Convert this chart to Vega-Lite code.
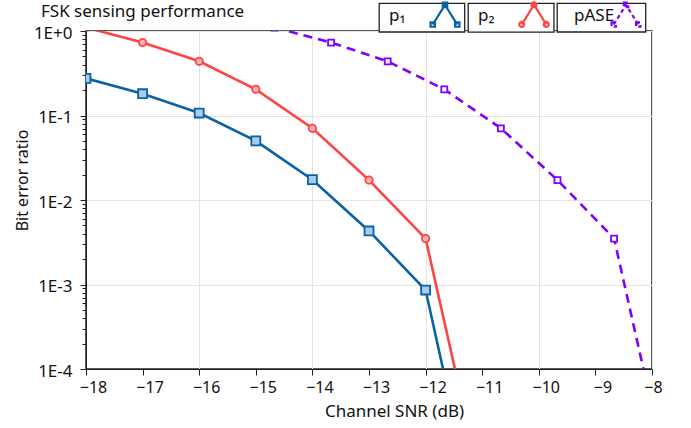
{
  "$schema": "https://vega.github.io/schema/vega-lite/v6.json",
  "width": 566,
  "height": 338,
  "autosize": {"type": "none"},
  "padding": {"left": 86, "top": 31, "right": 39, "bottom": 59},
  "background": "white",
  "config": {
    "font": "Noto Sans",
    "view": {"stroke": "#222", "strokeWidth": 1.5},
    "axis": {"labelColor": "#111", "titleColor": "#111", "domainColor": "#222", "tickColor": "#222", "gridColor": "#e4e4e4"}
  },
  "title": {"text": "FSK sensing performance", "anchor": "start", "frame": "group", "fontSize": 17, "fontWeight": "normal", "color": "#111", "baseline": "alphabetic", "dx": -45, "dy": 31, "offset": 0},
  "data": {"values": [
    {"snr": -18, "ber": 0.275, "series": "p₁"},
    {"snr": -17, "ber": 0.181, "series": "p₁"},
    {"snr": -16, "ber": 0.107, "series": "p₁"},
    {"snr": -15, "ber": 0.050, "series": "p₁"},
    {"snr": -14, "ber": 0.0174, "series": "p₁"},
    {"snr": -13, "ber": 0.0043, "series": "p₁"},
    {"snr": -12, "ber": 0.00086, "series": "p₁"},
    {"snr": -11, "ber": 0.0000008, "series": "p₁"},
    {"snr": -18, "ber": 1.1, "series": "p₂"},
    {"snr": -17, "ber": 0.73, "series": "p₂"},
    {"snr": -16, "ber": 0.438, "series": "p₂"},
    {"snr": -15, "ber": 0.204, "series": "p₂"},
    {"snr": -14, "ber": 0.0706, "series": "p₂"},
    {"snr": -13, "ber": 0.0172, "series": "p₂"},
    {"snr": -12, "ber": 0.0035, "series": "p₂"},
    {"snr": -11, "ber": 0.0000037, "series": "p₂"},
    {"snr": -14.67, "ber": 1.1, "series": "pASE"},
    {"snr": -13.67, "ber": 0.73, "series": "pASE"},
    {"snr": -12.67, "ber": 0.438, "series": "pASE"},
    {"snr": -11.67, "ber": 0.204, "series": "pASE"},
    {"snr": -10.67, "ber": 0.0706, "series": "pASE"},
    {"snr": -9.67, "ber": 0.0172, "series": "pASE"},
    {"snr": -8.67, "ber": 0.0035, "series": "pASE"},
    {"snr": -7.67, "ber": 0.0000037, "series": "pASE"}
  ]},
  "encoding": {
    "x": {"field": "snr", "type": "quantitative",
      "scale": {"domain": [-18, -8], "nice": false, "zero": false},
      "axis": {"values": [-18, -17, -16, -15, -14, -13, -12, -11, -10, -9, -8], "title": "Channel SNR (dB)", "titleFontSize": 17, "titleFontWeight": "normal", "titleX": 308, "titleY": 47, "titleBaseline": "alphabetic", "titleAlign": "center",
        "labelFontSize": 16, "labelPadding": 4, "tickSize": 6, "labelFlush": false,
        "labelOffset": {"condition": {"test": "datum.value == -8", "value": 1}, "value": 7},
        "gridOpacity": {"condition": {"test": "datum.value % 2 == 0", "value": 1}, "value": 0}}},
    "y": {"field": "ber", "type": "quantitative",
      "scale": {"type": "log", "domain": [0.0001, 1], "nice": false},
      "axis": {"values": [0.0001,0.0002,0.0003,0.0004,0.0005,0.0006,0.0007,0.0008,0.0009,0.001,0.002,0.003,0.004,0.005,0.006,0.007,0.008,0.009,0.01,0.02,0.03,0.04,0.05,0.06,0.07,0.08,0.09,0.1,0.2,0.3,0.4,0.5,0.6,0.7,0.8,0.9,1],
        "title": "Bit error ratio", "titleFontSize": 16, "titleFontWeight": "normal", "titleX": -59, "titleY": 149, "titleBaseline": "alphabetic", "titleAngle": -90, "titleAlign": "center",
        "labelFontSize": 17, "labelPadding": 8, "labelFlush": false, "labelOffset": 2,
        "labelExpr": "abs(log(datum.value)/LN10 - round(log(datum.value)/LN10)) < 0.000001 ? '1E' + (round(log(datum.value)/LN10) >= 0 ? '+' + round(log(datum.value)/LN10) : round(log(datum.value)/LN10)) : ''",
        "tickSize": {"condition": {"test": "abs(log(datum.value)/LN10 - round(log(datum.value)/LN10)) < 0.000001", "value": 6}, "value": 4},
        "gridOpacity": {"condition": {"test": "abs(log(datum.value)/LN10 - round(log(datum.value)/LN10)) < 0.000001", "value": 1}, "value": 0}}},
    "color": {"field": "series", "type": "nominal",
      "scale": {"domain": ["p₁", "p₂", "pASE"], "range": ["#0862a6", "#ff4444", "#8000ff"]},
      "legend": {"title": null, "orient": "none", "legendX": 293, "legendY": -28, "direction": "horizontal", "padding": 0, "offset": 0,
        "columnPadding": 3, "labelFontSize": 17, "labelColor": "#111", "symbolStrokeWidth": 2.2,
        "encode": {
          "entries": {"update": {
            "stroke": {"value": "#222"}, "strokeWidth": {"value": 1.3}, "fill": {"value": "white"},
            "width": {"signal": "datum.value === 'pASE' ? 81 : 77"}, "height": {"value": 23}}},
          "symbols": {"update": {
            "x": {"signal": "datum.value === 'pASE' ? 69 : 66"}, "y": {"value": 11.5},
            "size": {"value": 600},
            "fill": {"value": "transparent"},
            "strokeWidth": {"value": 2.2},
            "strokeDash": {"signal": "datum.value === 'pASE' ? [4, 3] : [1, 0]"},
            "shape": {"signal": "datum.value === 'p₂' ? 'M-1,0.8L0,-0.8L1,0.8 M-0.8,0.8a0.2,0.2 0 1,0 -0.4,0a0.2,0.2 0 1,0 0.4,0z M0.2,-0.8a0.2,0.2 0 1,0 -0.4,0a0.2,0.2 0 1,0 0.4,0z M1.2,0.8a0.2,0.2 0 1,0 -0.4,0a0.2,0.2 0 1,0 0.4,0z' : 'M-1,0.8L0,-0.8L1,0.8 M-1.18,0.62h0.36v0.36h-0.36z M-0.18,-0.98h0.36v0.36h-0.36z M0.82,0.62h0.36v0.36h-0.36z'"}}},
          "labels": {"update": {
            "x": {"signal": "datum.value === 'pASE' ? 17 : 10"}, "y": {"value": 18},
            "align": {"value": "left"}, "baseline": {"value": "alphabetic"}}}
        }}}
  },
  "layer": [
    {"transform": [{"filter": "datum.series !== 'pASE'"}],
      "mark": {"type": "line", "strokeWidth": 2.6, "clip": true}},
    {"transform": [{"filter": "datum.series === 'pASE'"}],
      "mark": {"type": "line", "strokeWidth": 2.6, "clip": true, "strokeDash": [9, 6]}},
    {"transform": [{"filter": "datum.series === 'p₁'"}],
      "mark": {"type": "point", "filled": false, "shape": "square", "size": 80, "fill": "#a9cbe8", "strokeWidth": 1.8, "clip": true, "opacity": 1}},
    {"transform": [{"filter": "datum.series === 'p₂'"}],
      "mark": {"type": "point", "filled": false, "shape": "circle", "size": 55, "fill": "#ffb3b3", "strokeWidth": 1.8, "clip": true, "opacity": 1}},
    {"transform": [{"filter": "datum.series === 'pASE'"}],
      "mark": {"type": "point", "filled": false, "shape": "square", "size": 36, "fill": "#ffffff", "strokeWidth": 1.8, "clip": true, "opacity": 1}}
  ]
}
